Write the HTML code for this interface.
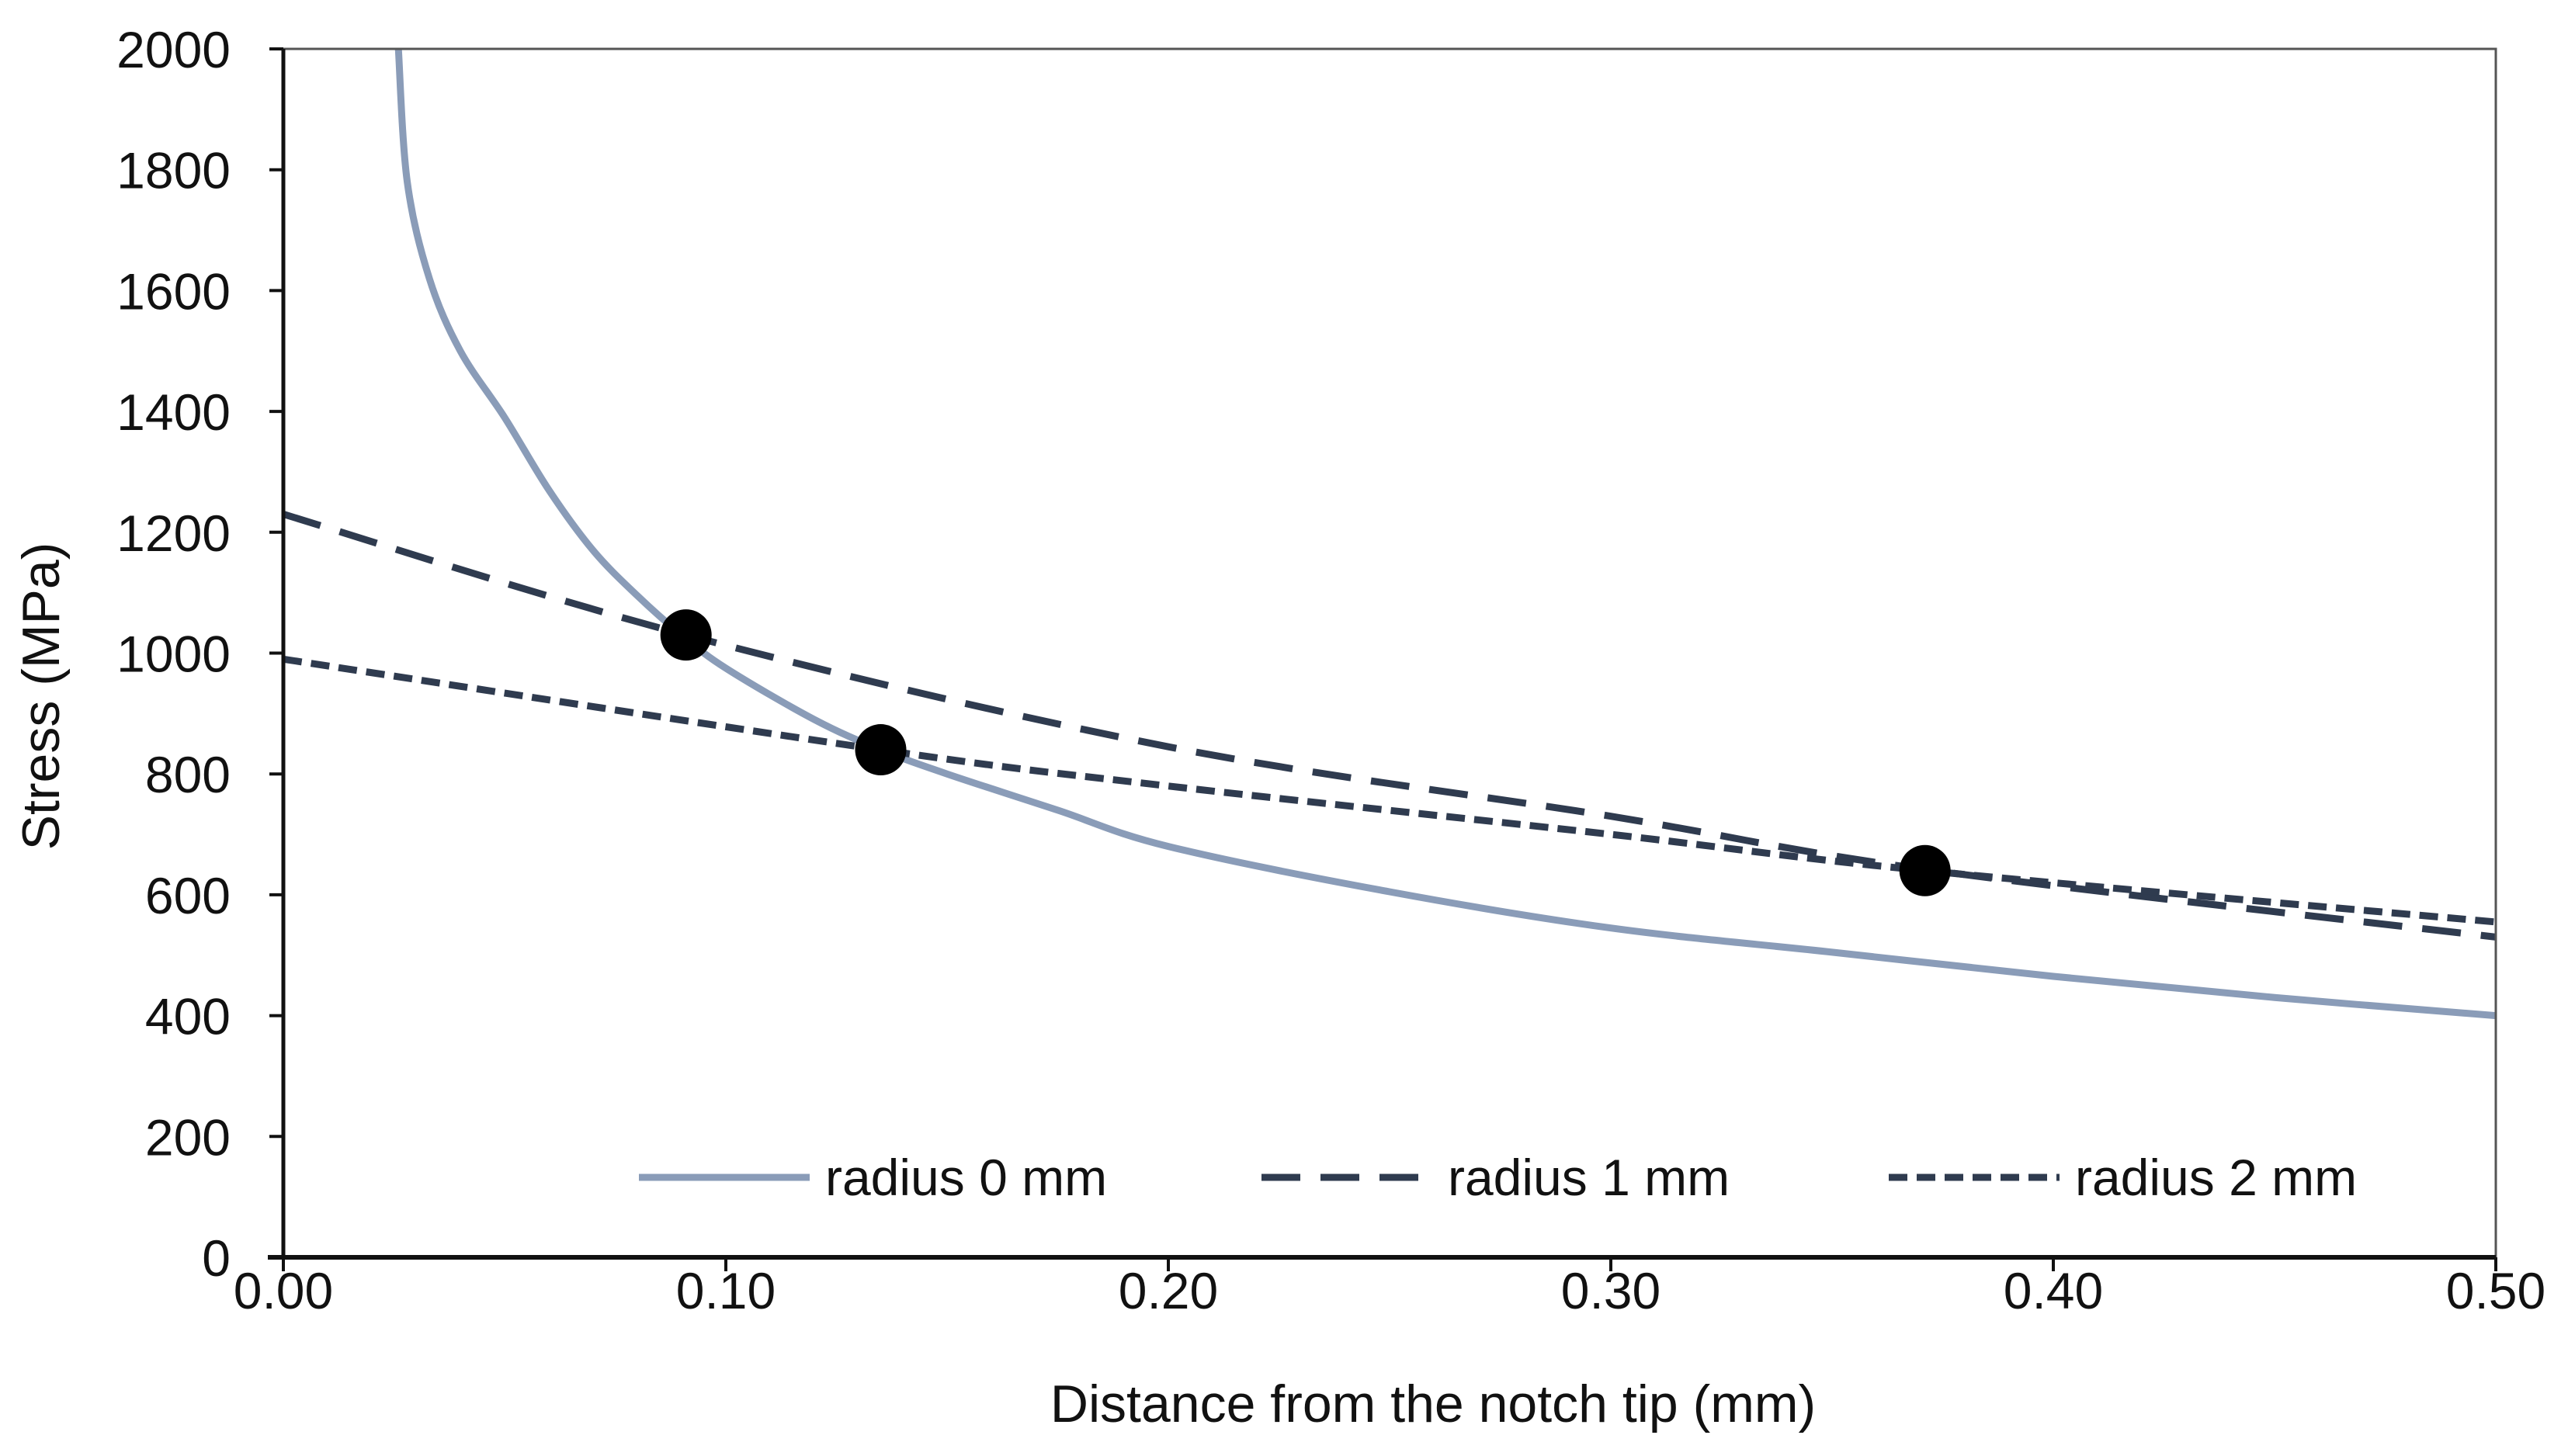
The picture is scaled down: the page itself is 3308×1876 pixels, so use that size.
<!DOCTYPE html>
<html><head><meta charset="utf-8"><style>
html,body{margin:0;padding:0;background:#fff;}
svg text{font-family:"Liberation Sans",sans-serif;fill:#111;}
</style></head><body>
<svg id="chart" width="3308" height="1871" viewBox="0 0 3308 1871" xmlns="http://www.w3.org/2000/svg">
<rect width="3308" height="1871" fill="#fff"/>
<g id="series"></g>
<g id="axes"></g>
<g id="legend"></g>
</svg>
<script>
const xTicks=[0,0.1,0.2,0.3,0.4,0.5];
const xTickLabels=["0.00","0.10","0.20","0.30","0.40","0.50"];
const yTicks=[0,200,400,600,800,1000,1200,1400,1600,1800,2000];
const r0X=[0.026,0.028,0.033,0.04,0.05,0.06,0.07,0.08,0.09,0.1,0.12,0.135,0.15,0.175,0.2,0.25,0.3,0.35,0.4,0.45,0.5];
const r0Y=[2000,1780,1620,1500,1390,1270,1170,1095,1030,975,890,840,800,740,680,605,545,505,465,430,400];
const r1X=[0,0.091,0.2,0.3,0.371,0.5];
const r1Y=[1230,1030,845,730,642,530];
const r2X=[0,0.135,0.2,0.3,0.371,0.5];
const r2Y=[990,840,780,700,640,555];
const markX=[0.091,0.135,0.371];
const markY=[1030,840,640];
const legendLabels=["radius 0 mm","radius 1 mm","radius 2 mm"];

const L=365,R=3215,T=63,B=1620;
const sx=v=>L+(v-0)/(0.5)*(R-L);
const sy=v=>B-(v/2000)*(B-T);
const NS="http://www.w3.org/2000/svg";
function mk(tag,attrs,parent){const e=document.createElementNS(NS,tag);for(const k in attrs)e.setAttribute(k,attrs[k]);parent.appendChild(e);return e;}
const axes=document.getElementById('axes'),series=document.getElementById('series'),legend=document.getElementById('legend');

let f=mk('rect',{x:L,y:T,width:R-L,height:B-T,fill:'none',stroke:'#555','stroke-width':3},axes);


let ya=mk('line',{x1:L,y1:T,x2:L,y2:B,stroke:'#111','stroke-width':5},axes);


let xa=mk('line',{x1:L-20,y1:B,x2:R,y2:B,stroke:'#111','stroke-width':6},axes);



yTicks.forEach(v=>{
  let t=mk('line',{x1:L-18,y1:sy(v),x2:L,y2:sy(v),stroke:'#111','stroke-width':4},axes);
  
  
  let tx=mk('text',{x:297,y:sy(v)+24,'text-anchor':'end','font-size':66},axes);
  tx.textContent=v;
  
  
});
xTicks.forEach((v,i)=>{
  let t=mk('line',{x1:sx(v),y1:B,x2:sx(v),y2:B+18,stroke:'#111','stroke-width':4},axes);
  
  
  let tx=mk('text',{x:sx(v),y:1686,'text-anchor':'middle','font-size':66},axes);
  tx.textContent=xTickLabels[i];
  
  
});
let xt=mk('text',{x:1846,y:1832,'text-anchor':'middle','font-size':68},axes);
xt.textContent="Distance from the notch tip (mm)";


let yt=mk('text',{x:0,y:0,'text-anchor':'middle','font-size':68,transform:'translate(76,897) rotate(-90)'},axes);
yt.textContent="Stress (MPa)";



function smooth(xs,ys){
  const p=xs.map((x,i)=>[sx(x),sy(ys[i])]);
  let d='M'+p[0][0]+','+p[0][1];
  for(let i=0;i<p.length-1;i++){
    const p0=p[i-1]||p[i],p1=p[i],p2=p[i+1],p3=p[i+2]||p2;
    const c1=[p1[0]+(p2[0]-p0[0])/6,p1[1]+(p2[1]-p0[1])/6];
    const c2=[p2[0]-(p3[0]-p1[0])/6,p2[1]-(p3[1]-p1[1])/6];
    d+=' C'+c1[0]+','+c1[1]+' '+c2[0]+','+c2[1]+' '+p2[0]+','+p2[1];
  }
  return d;
}
const styles=[{c:'#8a9cb8',w:9,d:''},{c:'#2f3b4f',w:9,d:'50 26'},{c:'#2f3b4f',w:9,d:'24 12'}];
const data=[[r0X,r0Y],[r1X,r1Y],[r2X,r2Y]];
const names=['series-radius-0','series-radius-1','series-radius-2'];
data.forEach((d,i)=>{
  let p=mk('path',{d:smooth(d[0],d[1]),fill:'none',stroke:styles[i].c,'stroke-width':styles[i].w,'stroke-dasharray':styles[i].d,'stroke-linejoin':'round'},series);
  
  
});
markX.forEach((x,i)=>{
  let c=mk('circle',{cx:sx(x),cy:sy(markY[i]),r:33,fill:'#000'},series);
  
  
});
const lgX=[823,1625,2433];
legendLabels.forEach((lab,i)=>{
  let g=mk('g',{},legend);
  
  
  mk('line',{x1:lgX[i],y1:1517,x2:lgX[i]+220,y2:1517,stroke:styles[i].c,'stroke-width':styles[i].w,'stroke-dasharray':styles[i].d},g);
  let t=mk('text',{x:lgX[i]+240,y:1540,'font-size':66},g);
  t.textContent=lab;
});
</script>
</body></html>
